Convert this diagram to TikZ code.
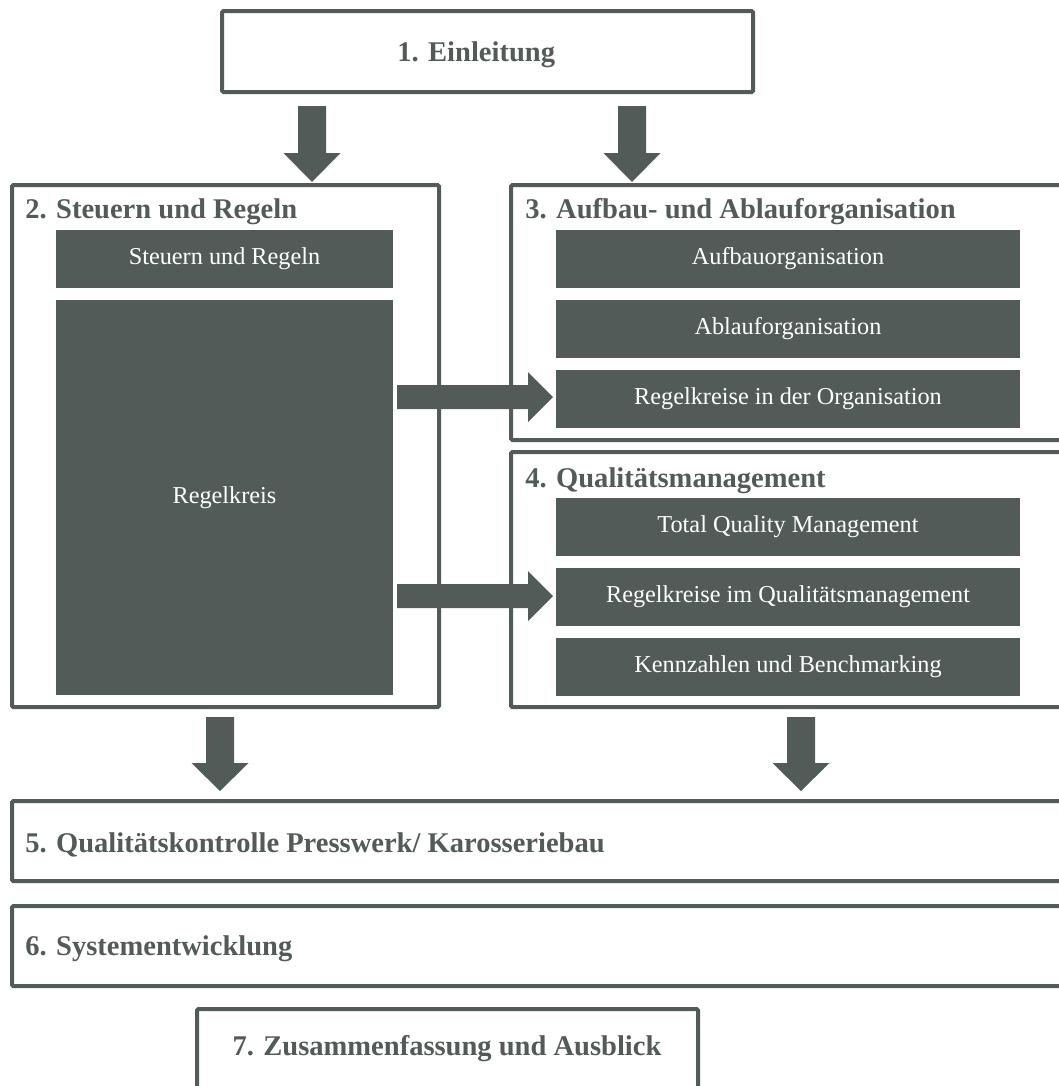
\documentclass[tikz,border=0pt]{standalone}
\usepackage{fontspec}
\setmainfont{Liberation Serif}
\definecolor{ink}{RGB}{83,91,89}

% block arrows drawn as filled outlines
% down: x, shaft top, head start, tip
\newcommand\dnarrow[4]{%
  \fill[ink] (#1-14,#2) -- (#1+14,#2) -- (#1+14,#3) -- (#1+28.5,#3)
    -- (#1,#4) -- (#1-28.5,#3) -- (#1-14,#3) -- cycle;}
% right: y, shaft start, head start, tip
\newcommand\rtarrow[4]{%
  \fill[ink] (#2,#1-12) -- (#3,#1-12) -- (#3,#1-25) -- (#4,#1)
    -- (#3,#1+25) -- (#3,#1+12) -- (#2,#1+12) -- cycle;}

\tikzset{
  frame/.style={draw=ink, line width=3pt, rounded corners=1pt},
  title/.style={text=ink, inner sep=0pt, anchor=base west,
    font=\bfseries\fontsize{21.4}{25}\selectfont},
  ibox/.style={fill=ink, text=white, inner sep=0pt, draw=none,
    font=\fontsize{18.2}{22}\selectfont, minimum height=43.5pt},
  ileft/.style={ibox, minimum width=252.75pt},
  iright/.style={ibox, minimum width=348pt},
}

\begin{document}
\begin{tikzpicture}[x=0.75pt,y=-0.75pt]
\clip (0,0) rectangle (1059,1086);
\fill[white] (0,0) rectangle (1059,1086);

% outer frames
\draw[frame] (222,11) rectangle (753,92);
\draw[frame] (12,185) rectangle (439,707);
\draw[frame] (511,185) rectangle (1075,440);
\draw[frame] (511,452) rectangle (1075,707);
\draw[frame] (12,801) rectangle (1075,881);
\draw[frame] (12,906) rectangle (1075,986);
\draw[frame] (197,1009) rectangle (698,1110);

% section titles
\node[title] (t1) at (397,61) {1. Einleitung};
\node[title] (t2) at (25,218) {2. Steuern und Regeln};
\node[title] (t3) at (525,218) {3. Aufbau- und Ablauforganisation};
\node[title] (t4) at (525,487) {4. Qualitätsmanagement};
\node[title] (t5) at (25,852) {5. Qualitätskontrolle Presswerk/ Karosseriebau};
\node[title] (t6) at (25,955) {6. Systementwicklung};
\node[title, anchor=base] (t7) at (447,1055) {7. Zusammenfassung und Ausblick};

% sub-topic blocks
\node[ileft] (sr) at (224.5,259) {Steuern und Regeln};
\node[ileft, minimum height=296.25pt] (rk) at (224.5,497.5) {Regelkreis};
\node[iright] (aufbau) at (788,259) {Aufbauorganisation};
\node[iright] (ablauf) at (788,328.5) {Ablauforganisation};
\node[iright] (rko) at (788,399) {Regelkreise in der Organisation};
\node[iright] (tqm) at (788,526.5) {Total Quality Management};
\node[iright] (rkq) at (788,596.5) {Regelkreise im Qualitätsmanagement};
\node[iright] (kb) at (788,666.5) {Kennzahlen und Benchmarking};

% flow arrows
\dnarrow{312}{106}{153}{182}
\dnarrow{632}{106}{153}{182}
\dnarrow{220}{717}{763}{791}
\dnarrow{801}{717}{763}{791}
\rtarrow{397}{397}{528}{553}
\rtarrow{596}{397}{528}{553}
\end{tikzpicture}
\end{document}
